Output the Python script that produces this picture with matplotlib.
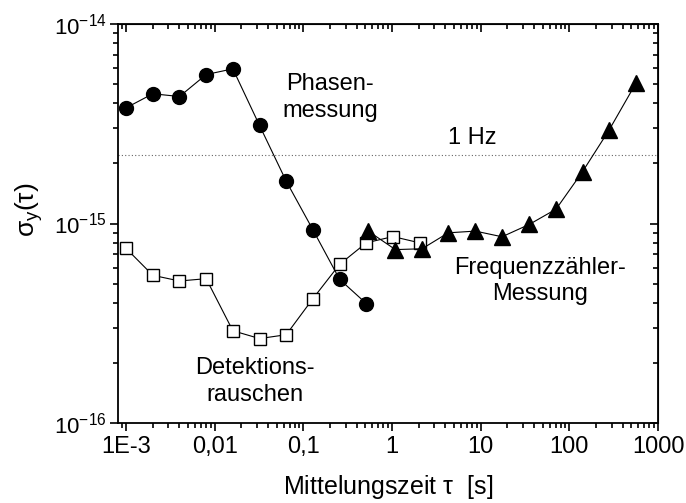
import matplotlib
matplotlib.use("Agg")
import matplotlib.pyplot as plt
import matplotlib.ticker as mticker
import numpy as np

plt.rcParams['font.family'] = ['Liberation Sans', 'DejaVu Sans']
plt.rcParams['mathtext.fontset'] = 'custom'
plt.rcParams['mathtext.rm'] = 'Liberation Sans'
plt.rcParams['mathtext.it'] = 'Liberation Sans'

# Phasenmessung (filled circles)
tau_phase = [0.001, 0.002, 0.004, 0.008, 0.016, 0.032, 0.064, 0.128, 0.256, 0.512]
sig_phase = [3.8e-15, 4.47e-15, 4.33e-15, 5.58e-15, 5.96e-15, 3.1e-15, 1.63e-15,
             9.3e-16, 5.25e-16, 3.97e-16]

# Detektionsrauschen (open squares)
tau_det = [0.001, 0.002, 0.004, 0.008, 0.016, 0.032, 0.064, 0.128, 0.256, 0.512,
           1.024, 2.048]
sig_det = [7.5e-16, 5.5e-16, 5.15e-16, 5.29e-16, 2.9e-16, 2.65e-16, 2.77e-16,
           4.2e-16, 6.24e-16, 8.0e-16, 8.6e-16, 8.0e-16]

# Frequenzzaehler-Messung (filled triangles)
tau_freq = [0.54, 1.09, 2.18, 4.3, 8.7, 17.4, 35.4, 70.8, 141, 282, 564]
sig_freq = [9.15e-16, 7.4e-16, 7.47e-16, 8.98e-16, 9.16e-16, 8.58e-16, 9.9e-16,
            1.18e-15, 1.82e-15, 2.95e-15, 5.05e-15]

hz_level = 2.21e-15

x_ticks = [1e-3, 1e-2, 1e-1, 1, 10, 100, 1000]
x_labels = ['1E-3', '0,01', '0,1', '1', '10', '100', '1000']
y_ticks = [1e-16, 1e-15, 1e-14]
y_labels = ['10$^{\\mathregular{-16}}$', '10$^{\\mathregular{-15}}$', '10$^{\\mathregular{-14}}$']

fig = plt.figure(figsize=(6.86, 5.03), dpi=100)
ax = fig.add_axes([118/686, 80/503, 540/686, 399/503])

ax.axhline(hz_level, color='#666666', lw=0.8, ls=(0, (1, 2)))

ax.plot(tau_det, sig_det, '-', color='black', lw=0.8, marker='s', ms=9,
        mfc='white', mec='black', mew=1.0, zorder=3)
ax.plot(tau_phase, sig_phase, '-', color='black', lw=0.8, marker='o', ms=10,
        mfc='black', mec='black', zorder=4)
ax.plot(tau_freq, sig_freq, '-', color='black', lw=0.8, marker='^', ms=11,
        mfc='black', mec='black', zorder=4)

ax.set_xscale('log')
ax.set_yscale('log')
ax.set_xlim(8.1e-4, 1000)
ax.set_ylim(1e-16, 1e-14)

ax.set_xticks(x_ticks)
ax.set_xticklabels(x_labels)
ax.xaxis.set_minor_locator(mticker.LogLocator(base=10, subs=np.arange(2, 10), numticks=20))
ax.yaxis.set_minor_locator(mticker.LogLocator(base=10, subs=np.arange(2, 10), numticks=20))
ax.xaxis.set_minor_formatter(mticker.NullFormatter())
ax.yaxis.set_minor_formatter(mticker.NullFormatter())
ax.set_yticks(y_ticks)
ax.set_yticklabels(y_labels)

ax.tick_params(which='both', direction='out', labelsize=17, width=1.2)
ax.tick_params(axis='y', labelsize=16, pad=2)
ax.tick_params(which='major', length=6)
ax.tick_params(which='minor', length=3.5)
for s in ax.spines.values():
    s.set_linewidth(1.3)

# mirrored ticks on top and right, pointing inward
top = ax.secondary_xaxis('top', functions=(lambda v: v, lambda v: v))
top.set_xscale('log')
top.set_xticks(x_ticks)
top.xaxis.set_minor_locator(mticker.LogLocator(base=10, subs=np.arange(2, 10), numticks=20))
top.tick_params(which='both', direction='in', labeltop=False, width=1.2)
top.tick_params(which='major', length=6)
top.tick_params(which='minor', length=3.5)
right = ax.secondary_yaxis('right', functions=(lambda v: v, lambda v: v))
right.set_yscale('log')
right.set_yticks(y_ticks)
right.yaxis.set_minor_locator(mticker.LogLocator(base=10, subs=np.arange(2, 10), numticks=20))
right.tick_params(which='both', direction='in', labelright=False, width=1.2)
right.tick_params(which='major', length=6)
right.tick_params(which='minor', length=3.5)

ax.set_xlabel('Mittelungszeit $\\tau$  [s]', fontsize=18)
ax.set_ylabel('$\\sigma_y(\\tau)$', fontsize=19)
ax.xaxis.set_label_coords(0.5, -0.125)
ax.yaxis.set_label_coords(-0.135, 0.535)

ax.text(0.393, 0.816, 'Phasen-\nmessung', transform=ax.transAxes, fontsize=17,
        ha='center', va='center', linespacing=1.25)
ax.text(0.656, 0.714, '1 Hz', transform=ax.transAxes, fontsize=17,
        ha='center', va='center')
ax.text(0.781, 0.356, 'Frequenzzähler-\nMessung', transform=ax.transAxes, fontsize=17,
        ha='center', va='center', linespacing=1.25)
ax.text(0.254, 0.104, 'Detektions-\nrauschen', transform=ax.transAxes, fontsize=17,
        ha='center', va='center', linespacing=1.25)

fig.savefig('out.png', dpi=100)
